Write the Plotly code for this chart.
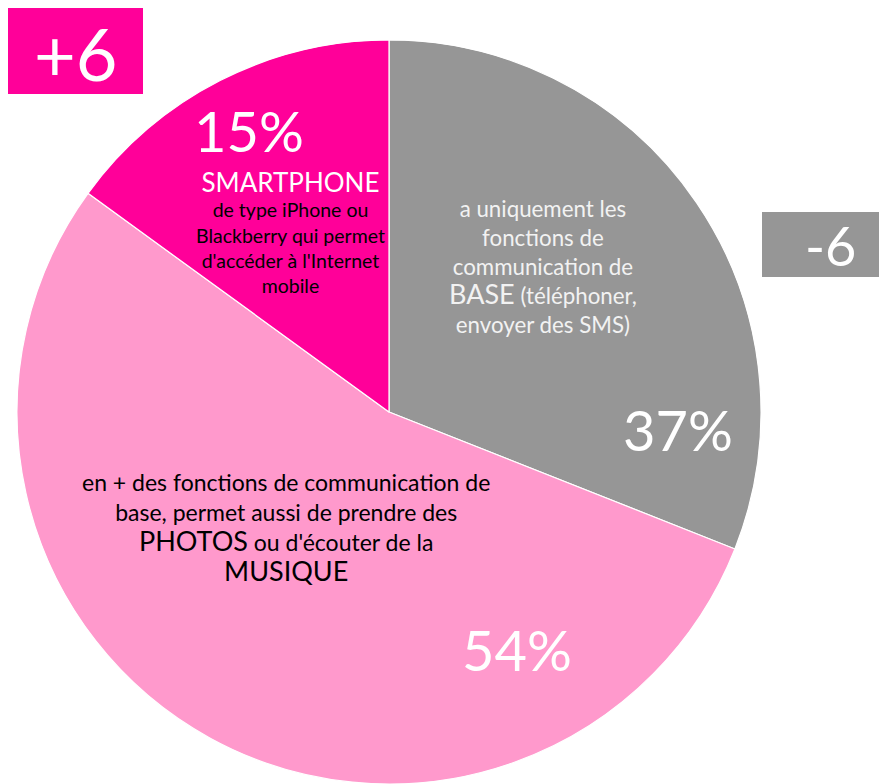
import plotly.graph_objects as go

# The page body has an 8px margin, so the figure is 8px smaller than the window
W, H = 879, 776
OFF = 8  # page offset of the figure

# ---- data ----
categories = ["BASE", "PHOTOS / MUSIQUE", "SMARTPHONE"]
values = [31, 54, 15]                      # slice sizes (angles as drawn)
pct_labels = ["37%", "54%", "15%"]          # labels printed on slices
colors = ["#969696", "#FF99CC", "#FF0099"]
changes = ["-6", "+6"]                      # evolution for BASE and SMARTPHONE

base_lines = ["a uniquement les", "fonctions de", "communication de",
              "<span style='font-size:27px'>BASE</span> (téléphoner,",
              "envoyer des SMS)"]
photo_lines = ["en + des fonctions de communication de",
               "base, permet aussi de prendre des",
               "<span style='font-size:27px'>PHOTOS</span> ou d'écouter de la",
               "<span style='font-size:27px'>MUSIQUE</span>"]
smart_title = "SMARTPHONE"
smart_lines = ["de type iPhone ou", "Blackberry qui permet",
               "d'accéder à l'Internet", "mobile"]

FONT = "Lato"

fig = go.Figure(go.Pie(
    labels=categories, values=values, sort=False, direction="clockwise",
    rotation=0, marker=dict(colors=colors, line=dict(color="white", width=1.2)),
    textinfo="none", hoverinfo="skip", showlegend=False,
    domain=dict(x=[0.0091, 0.8578], y=[0.0, 0.9588]),
))


def px(x):
    """page x pixel -> paper coordinate"""
    return (x - OFF) / W


def py(y):
    """page y pixel -> paper coordinate"""
    return 1 - (y - OFF) / H


ann = []


def add(x, y, text, size, color, yanchor="middle"):
    ann.append(dict(x=px(x), y=py(y), xref="paper", yref="paper", text=text,
                    showarrow=False, xanchor="center", yanchor=yanchor,
                    align="center",
                    font=dict(family=FONT, size=size, color=color)))


# percentages
add(678, 430, pct_labels[0], 56, "white")
add(517, 649, pct_labels[1], 56, "white")
add(249, 130, pct_labels[2], 56, "white")

# base description (white on grey)
add(543, 267, "<br>".join(base_lines), 22.3, "#F2F2F2")

# photos description (black on light pink)
add(286, 527, "<br>".join(photo_lines), 23, "black")

# smartphone description
smart_text = ("<span style='font-size:26px;color:white'>" + smart_title
              + "</span><br>" + "<br>".join(smart_lines))
add(290, 232, smart_text, 19.5, "black")

# change boxes
shapes = [
    dict(type="rect", xref="paper", yref="paper", x0=px(6), x1=px(143),
         y0=py(94), y1=py(4), fillcolor=colors[2], line=dict(width=0)),
    dict(type="rect", xref="paper", yref="paper", x0=px(762), x1=px(890),
         y0=py(277), y1=py(212), fillcolor=colors[0], line=dict(width=0)),
]
add(76, OFF, changes[1], 72, "white", yanchor="top")
add(830, 245, changes[0], 54, "white")

fig.update_layout(
    width=W, height=H, margin=dict(l=0, r=0, t=0, b=0),
    paper_bgcolor="white", plot_bgcolor="white",
    annotations=ann, shapes=shapes,
)

fig.write_html("out.html")
